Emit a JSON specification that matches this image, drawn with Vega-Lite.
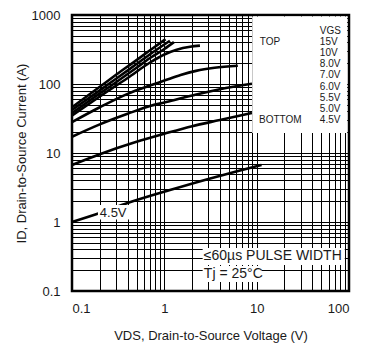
{
  "$schema": "https://vega.github.io/schema/vega-lite/v6.json",
  "autosize": {"type": "none"},
  "padding": {"left": 72, "top": 15, "right": 30, "bottom": 62},
  "width": 277,
  "height": 276,
  "background": "white",
  "config": {
    "view": {"stroke": "black", "strokeWidth": 2.5},
    "font": "Liberation Sans",
    "axis": {
      "grid": true,
      "gridColor": "#000000",
      "gridOpacity": 1,
      "gridWidth": 1,
      "ticks": false,
      "domain": false,
      "labelFont": "Liberation Sans",
      "labelFontSize": 13,
      "labelColor": "#1a1a1a",
      "titleFont": "Liberation Sans",
      "titleFontSize": 13,
      "titleFontWeight": "normal",
      "titleColor": "#1a1a1a"
    }
  },
  "datasets": {
    "curves": [
      {"v": "15V", "x": 0.1, "y": 46}, {"v": "15V", "x": 0.2, "y": 91}, {"v": "15V", "x": 0.3, "y": 136}, {"v": "15V", "x": 0.5, "y": 222}, {"v": "15V", "x": 0.7, "y": 308}, {"v": "15V", "x": 1.03, "y": 445},
      {"v": "10V", "x": 0.1, "y": 42}, {"v": "10V", "x": 0.2, "y": 81}, {"v": "10V", "x": 0.3, "y": 119}, {"v": "10V", "x": 0.5, "y": 195}, {"v": "10V", "x": 0.7, "y": 270}, {"v": "10V", "x": 1.15, "y": 424},
      {"v": "8.0V", "x": 0.1, "y": 38}, {"v": "8.0V", "x": 0.2, "y": 73}, {"v": "8.0V", "x": 0.3, "y": 106}, {"v": "8.0V", "x": 0.5, "y": 172}, {"v": "8.0V", "x": 0.7, "y": 238}, {"v": "8.0V", "x": 1.0, "y": 322}, {"v": "8.0V", "x": 1.27, "y": 405},
      {"v": "7.0V", "x": 0.1, "y": 35}, {"v": "7.0V", "x": 0.2, "y": 66}, {"v": "7.0V", "x": 0.4, "y": 122}, {"v": "7.0V", "x": 0.7, "y": 205}, {"v": "7.0V", "x": 1.0, "y": 268}, {"v": "7.0V", "x": 1.36, "y": 314}, {"v": "7.0V", "x": 1.9, "y": 347}, {"v": "7.0V", "x": 2.43, "y": 360},
      {"v": "6.0V", "x": 0.1, "y": 28}, {"v": "6.0V", "x": 0.2, "y": 46}, {"v": "6.0V", "x": 0.4, "y": 72}, {"v": "6.0V", "x": 0.7, "y": 95}, {"v": "6.0V", "x": 1.0, "y": 112}, {"v": "6.0V", "x": 1.5, "y": 135}, {"v": "6.0V", "x": 2.2, "y": 155}, {"v": "6.0V", "x": 3.5, "y": 172}, {"v": "6.0V", "x": 6.25, "y": 184},
      {"v": "5.5V", "x": 0.1, "y": 17.2}, {"v": "5.5V", "x": 0.2, "y": 26}, {"v": "5.5V", "x": 0.4, "y": 37}, {"v": "5.5V", "x": 0.7, "y": 48}, {"v": "5.5V", "x": 1.0, "y": 54}, {"v": "5.5V", "x": 2.0, "y": 68}, {"v": "5.5V", "x": 4.0, "y": 84}, {"v": "5.5V", "x": 8.9, "y": 101},
      {"v": "5.0V", "x": 0.1, "y": 6.7}, {"v": "5.0V", "x": 0.2, "y": 9.6}, {"v": "5.0V", "x": 0.5, "y": 14.5}, {"v": "5.0V", "x": 1.0, "y": 19}, {"v": "5.0V", "x": 2.0, "y": 24.5}, {"v": "5.0V", "x": 4.0, "y": 30}, {"v": "5.0V", "x": 8.9, "y": 38},
      {"v": "4.5V", "x": 0.1, "y": 1.0}, {"v": "4.5V", "x": 0.2, "y": 1.35}, {"v": "4.5V", "x": 0.4, "y": 1.88}, {"v": "4.5V", "x": 1.15, "y": 2.9}, {"v": "4.5V", "x": 3.0, "y": 4.2}, {"v": "4.5V", "x": 6.0, "y": 5.4}, {"v": "4.5V", "x": 11.3, "y": 6.7}
    ],
    "boxes": [
      {"name": "legend", "x": 8.95, "x2": 95.5, "y": 950, "y2": 19.5},
      {"name": "pulse", "x": 2.6, "x2": 90, "y": 0.42, "y2": 0.238},
      {"name": "tj", "x": 2.6, "x2": 11.4, "y": 0.23, "y2": 0.135},
      {"name": "lab45", "x": 0.191, "x2": 0.424, "y": 1.76, "y2": 1.09}
    ],
    "legendText": [
      {"t": "VGS", "x": 48.3, "y": 596},
      {"t": "TOP", "x": 10.8, "y": 406},
      {"t": "15V", "x": 48.3, "y": 406},
      {"t": "10V", "x": 48.3, "y": 281},
      {"t": "8.0V", "x": 48.3, "y": 193},
      {"t": "7.0V", "x": 48.3, "y": 134},
      {"t": "6.0V", "x": 48.3, "y": 91.4},
      {"t": "5.5V", "x": 48.3, "y": 63.3},
      {"t": "5.0V", "x": 48.3, "y": 43.4},
      {"t": "BOTTOM", "x": 10.6, "y": 30.1},
      {"t": "4.5V", "x": 48.3, "y": 30.1}
    ],
    "noteText": [
      {"t": "≤60µs PULSE WIDTH", "x": 2.68, "y": 0.322},
      {"t": "Tj = 25°C", "x": 2.68, "y": 0.176}
    ],
    "curveLabel": [
      {"t": "4.5V", "x": 0.2, "y": 1.37}
    ]
  },
  "encoding": {
    "x": {
      "field": "x", "type": "quantitative",
      "scale": {"type": "log", "domain": [0.1, 100], "nice": false},
      "axis": {
        "title": "VDS, Drain-to-Source Voltage (V)",
        "values": [0.1, 0.2, 0.3, 0.4, 0.5, 0.6, 0.7, 0.8, 0.9, 1, 2, 3, 4, 5, 6, 7, 8, 9, 10, 20, 30, 40, 50, 60, 70, 80, 90, 100],
        "format": "~g",
        "labelExpr": "indexof(['0.1','1','10','100'], datum.label) >= 0 ? datum.label : ''",
        "labelPadding": 11,
        "titlePadding": 14
      }
    },
    "y": {
      "field": "y", "type": "quantitative",
      "scale": {"type": "log", "domain": [0.1, 1000], "nice": false},
      "axis": {
        "title": "ID, Drain-to-Source Current (A)",
        "values": [0.1, 0.2, 0.3, 0.4, 0.5, 0.6, 0.7, 0.8, 0.9, 1, 2, 3, 4, 5, 6, 7, 8, 9, 10, 20, 30, 40, 50, 60, 70, 80, 90, 100, 200, 300, 400, 500, 600, 700, 800, 900, 1000],
        "format": "~g",
        "labelExpr": "indexof(['0.1','1','10','100','1000'], datum.label) >= 0 ? datum.label : ''",
        "labelPadding": 12,
        "titlePadding": 3
      }
    }
  },
  "layer": [
    {
      "data": {"name": "curves"},
      "mark": {"type": "line", "color": "black", "strokeWidth": 2.6, "interpolate": "monotone"},
      "encoding": {"detail": {"field": "v", "type": "nominal"}}
    },
    {
      "data": {"name": "boxes"},
      "mark": {"type": "rect", "fill": "white", "stroke": null},
      "encoding": {
        "x2": {"field": "x2"},
        "y2": {"field": "y2"}
      }
    },
    {
      "data": {"name": "legendText"},
      "mark": {"type": "text", "align": "left", "baseline": "middle", "fontSize": 10, "color": "#1a1a1a", "font": "Liberation Sans"},
      "encoding": {"text": {"field": "t"}}
    },
    {
      "data": {"name": "noteText"},
      "mark": {"type": "text", "align": "left", "baseline": "middle", "fontSize": 14, "color": "#1a1a1a", "font": "Liberation Sans"},
      "encoding": {"text": {"field": "t"}}
    },
    {
      "data": {"name": "curveLabel"},
      "mark": {"type": "text", "align": "left", "baseline": "middle", "fontSize": 13, "color": "#1a1a1a", "font": "Liberation Sans"},
      "encoding": {"text": {"field": "t"}}
    }
  ]
}
